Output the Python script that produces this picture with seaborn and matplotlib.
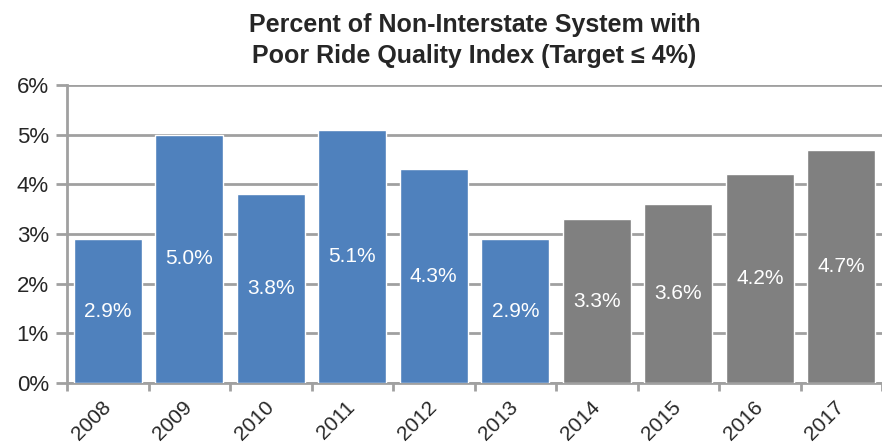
import matplotlib
matplotlib.use("Agg")
import matplotlib.pyplot as plt
import seaborn as sns
from matplotlib.ticker import FuncFormatter

# chart data
years = ["2008", "2009", "2010", "2011", "2012", "2013", "2014", "2015", "2016", "2017"]
poor_pct = [2.9, 5.0, 3.8, 5.1, 4.3, 2.9, 3.3, 3.6, 4.2, 4.7]
bar_colors = ["#4F81BD"] * 6 + ["#808080"] * 4

sns.set_theme(style="white")
plt.rcParams["font.family"] = ["Liberation Sans Narrow", "Liberation Sans", "DejaVu Sans"]

fig = plt.figure(figsize=(8.82, 4.45), dpi=100)
ax = fig.add_axes([0.076, 0.139, 0.924, 0.670])

sns.barplot(x=years, y=poor_pct, hue=years, palette=bar_colors, legend=False,
            width=0.835, saturation=1, ax=ax, zorder=3)

# labels in the middle of each bar
for i, v in enumerate(poor_pct):
    ax.text(i, v / 2, f"{v:.1f}%", ha="center", va="center", color="white", fontsize=15, zorder=4)

ax.set_ylim(0, 6)
ax.set_xlim(-0.5, len(years) - 0.5)
ax.set_yticks(range(0, 7))
ax.yaxis.set_major_formatter(FuncFormatter(lambda y, _: f"{int(y)}%"))
ax.grid(axis="y", color="#A0A0A0", linewidth=2, zorder=0)
ax.tick_params(axis="y", labelsize=16, length=8, width=2, color="#A0A0A0", pad=5, left=True)

# x ticks between categories
ax.set_xticks([i + 0.5 for i in range(-1, len(years))], minor=True)
ax.tick_params(axis="x", which="minor", length=6, width=2, color="#A0A0A0", bottom=True)
ax.tick_params(axis="x", which="major", length=0, labelsize=15, pad=15)
for lbl in ax.get_xticklabels():
    lbl.set_rotation(45)
    lbl.set_ha("right")
    lbl.set_va("center")
    lbl.set_rotation_mode("anchor")

for side in ["top", "right"]:
    ax.spines[side].set_visible(False)
for side in ["left", "bottom"]:
    ax.spines[side].set_color("#A0A0A0")
    ax.spines[side].set_linewidth(2)

ax.set_xlabel("")
ax.set_ylabel("")
ax.set_title("Percent of Non-Interstate System with\nPoor Ride Quality Index (Target \u2264 4%)",
             fontsize=18, fontweight="bold", pad=16, linespacing=1.35)

fig.savefig("out.png", dpi=100)
